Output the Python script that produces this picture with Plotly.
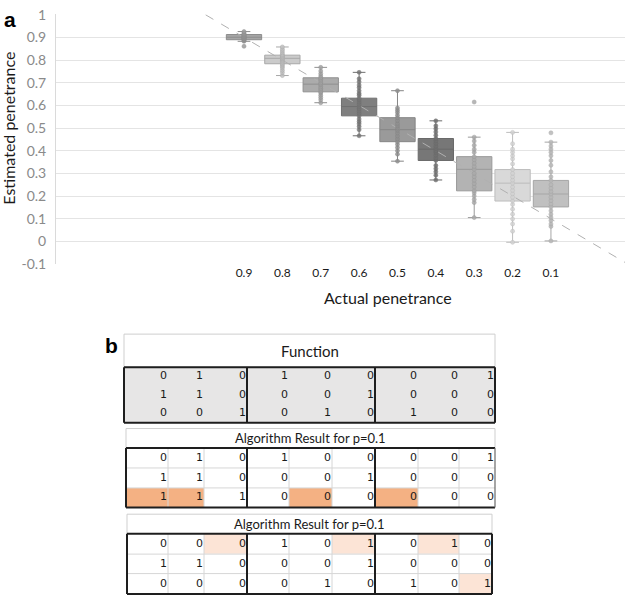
import plotly.graph_objects as go

# ---------------- Panel a: box-plot data ----------------
actual_labels = ["0.9", "0.8", "0.7", "0.6", "0.5", "0.4", "0.3", "0.2", "0.1"]
actual_values = [0.9, 0.8, 0.7, 0.6, 0.5, 0.4, 0.3, 0.2, 0.1]
q1_vals = [0.890, 0.784, 0.660, 0.554, 0.440, 0.357, 0.223, 0.178, 0.152]
median_vals = [0.901, 0.808, 0.694, 0.595, 0.493, 0.407, 0.318, 0.257, 0.209]
q3_vals = [0.913, 0.822, 0.722, 0.632, 0.546, 0.454, 0.374, 0.317, 0.269]
low_whisker = [0.883, 0.732, 0.612, 0.466, 0.354, 0.271, 0.105, -0.004, 0.002]
high_whisker = [0.926, 0.858, 0.768, 0.746, 0.665, 0.532, 0.460, 0.481, 0.438]

pts_09 = [0.861, 0.883, 0.886, 0.889, 0.891, 0.893, 0.895, 0.897, 0.899, 0.900,
          0.901, 0.903, 0.905, 0.907, 0.909, 0.911, 0.913, 0.916, 0.920, 0.926]
pts_08 = [0.732, 0.745, 0.755, 0.765, 0.772, 0.778, 0.784, 0.790, 0.795, 0.800,
          0.805, 0.808, 0.812, 0.815, 0.820, 0.825, 0.832, 0.840, 0.848, 0.858]
pts_07 = [0.612, 0.625, 0.635, 0.645, 0.655, 0.660, 0.668, 0.675, 0.682, 0.690,
          0.694, 0.700, 0.708, 0.715, 0.722, 0.730, 0.740, 0.752, 0.768]
pts_06 = [0.466, 0.493, 0.507, 0.519, 0.529, 0.540, 0.554, 0.565, 0.575, 0.585, 0.595,
          0.605, 0.615, 0.625, 0.632, 0.645, 0.653, 0.665, 0.679, 0.690, 0.704, 0.718, 0.746]
pts_05 = [0.354, 0.385, 0.400, 0.414, 0.428, 0.440, 0.452, 0.465, 0.478, 0.490,
          0.500, 0.510, 0.520, 0.533, 0.546, 0.557, 0.569, 0.579, 0.589, 0.665]
pts_04 = [0.271, 0.292, 0.307, 0.321, 0.335, 0.357, 0.368, 0.380, 0.392, 0.400,
          0.410, 0.420, 0.432, 0.444, 0.454, 0.468, 0.483, 0.497, 0.510, 0.532]
pts_03 = [0.105, 0.171, 0.185, 0.200, 0.214, 0.223, 0.240, 0.255, 0.270, 0.285, 0.300,
          0.318, 0.330, 0.345, 0.360, 0.374, 0.393, 0.407, 0.424, 0.443, 0.460, 0.615]
pts_02 = [-0.004, 0.045, 0.077, 0.099, 0.120, 0.142, 0.163, 0.178, 0.195, 0.210, 0.225, 0.240,
          0.257, 0.270, 0.285, 0.300, 0.317, 0.342, 0.364, 0.378, 0.393, 0.407, 0.431, 0.481]
pts_01 = [0.002, 0.066, 0.077, 0.092, 0.106, 0.120, 0.135, 0.152, 0.165, 0.180, 0.195, 0.209, 0.220,
          0.235, 0.250, 0.269, 0.285, 0.307, 0.336, 0.357, 0.378, 0.393, 0.407, 0.421, 0.438, 0.479]
all_points = [pts_09, pts_08, pts_07, pts_06, pts_05, pts_04, pts_03, pts_02, pts_01]

identity_line = [1.0, -0.1]          # y = actual penetrance reference line
y_tick_values = [-0.1, 0.0, 0.1, 0.2, 0.3, 0.4, 0.5, 0.6, 0.7, 0.8, 0.9, 1.0]
y_tick_labels = ["-0.1", "0", "0.1", "0.2", "0.3", "0.4", "0.5", "0.6", "0.7", "0.8", "0.9", "1"]

# ---------------- Panel b: table data ----------------
function_vals = [[0, 1, 0, 1, 0, 0, 0, 0, 1],
                 [1, 1, 0, 0, 0, 1, 0, 0, 0],
                 [0, 0, 1, 0, 1, 0, 1, 0, 0]]
result1_vals = [[0, 1, 0, 1, 0, 0, 0, 0, 1],
                [1, 1, 0, 0, 0, 1, 0, 0, 0],
                [1, 1, 1, 0, 0, 0, 0, 0, 0]]
result1_marked = [[0, 0, 0, 0, 0, 0, 0, 0, 0],
                  [0, 0, 0, 0, 0, 0, 0, 0, 0],
                  [1, 1, 0, 0, 1, 0, 1, 0, 0]]
result2_vals = [[0, 0, 0, 1, 0, 1, 0, 1, 0],
                [1, 1, 0, 0, 0, 1, 0, 0, 0],
                [0, 0, 0, 0, 1, 0, 1, 0, 1]]
result2_marked = [[0, 0, 1, 0, 0, 1, 0, 1, 0],
                  [0, 0, 0, 0, 0, 0, 0, 0, 0],
                  [0, 0, 0, 0, 0, 0, 0, 0, 1]]
all_marked = [[[1] * 9 for _ in range(3)], result1_marked, result2_marked]
table_titles = ["Function", "Algorithm Result for p=0.1", "Algorithm Result for p=0.1"]

# ---------------- styles / layout constants ----------------
W, H = 625, 603
box_fill = ["#a6a6a6", "#cbcbcb", "#ababab", "#7f7f7f", "#9a9a9a", "#777777", "#b3b3b3", "#d9d9d9", "#c0c0c0"]
whisk_col = ["#8c8c8c", "#a8a8a8", "#909090", "#6f6f6f", "#858585", "#6a6a6a", "#9a9a9a", "#bdbdbd", "#a6a6a6"]
pt_col = ["#9c9c9c", "#c2c2c2", "#a3a3a3", "#767676", "#909090", "#707070", "#aaaaaa", "#d2d2d2", "#b8b8b8"]
mark_code = [3, 1, 2]   # grey fill / strong orange / light orange

X_RANGE = [-4.9, 9.93]
Y_TOP = 1.003
plot_left_px, plot_top_px, plot_bot_px = 56, 6.3, 263   # pixel positions in the picture


def pos(p):
    return round((0.9 - p) * 10, 6)


fig = go.Figure()

fig.add_trace(go.Scatter(x=[pos(p) for p in identity_line], y=identity_line, mode="lines",
                         line=dict(color="#b0b0b0", width=1, dash="dash"),
                         hoverinfo="skip", showlegend=False, xaxis="x", yaxis="y"))

for i, p in enumerate(actual_values):
    xi = pos(p)
    fig.add_trace(go.Box(x=[xi], q1=[q1_vals[i]], median=[median_vals[i]], q3=[q3_vals[i]],
                         lowerfence=[low_whisker[i]], upperfence=[high_whisker[i]],
                         width=0.92, whiskerwidth=0.36, boxpoints=False,
                         fillcolor=box_fill[i], line=dict(color=whisk_col[i], width=1),
                         showlegend=False, hoverinfo="skip", xaxis="x", yaxis="y"))
    fig.add_trace(go.Scatter(x=[xi] * len(all_points[i]), y=all_points[i], mode="markers",
                             marker=dict(size=4, color=pt_col[i], opacity=0.85,
                                         line=dict(color=whisk_col[i], width=0.6)),
                             showlegend=False, hoverinfo="skip", xaxis="x", yaxis="y"))

# ---------------- tables (overlay axes x2/y2 in picture-pixel units) ----------------
col_edges = [126, 168, 204, 247, 289, 332, 375, 418, 459, 495]
table_geom = [
    dict(top=335, rows=[369, 388, 407, 426], left=124, right=495, tsize=15, inner=False, rthick=True),
    dict(top=432, rows=[452, 472.5, 493, 513], left=126, right=495, tsize=13, inner=True, rthick=False),
    dict(top=520, rows=[540, 561, 581, 602], left=127, right=492, tsize=13, inner=True, rthick=True),
]
table_vals = [function_vals, result1_vals, result2_vals]
cell_scale = [[0, "#ffffff"], [0.1667, "#ffffff"], [0.1667, "#f4b183"], [0.5, "#f4b183"],
              [0.5, "#fce4d6"], [0.8333, "#fce4d6"], [0.8333, "#e7e6e6"], [1, "#e7e6e6"]]

shapes = []
annotations = []
for t in range(3):
    g = table_geom[t]
    edges = [g["left"]] + col_edges[1:-1] + [g["right"]]
    rows = g["rows"]
    z = [[m * mark_code[t] for m in r] for r in all_marked[t]]
    fig.add_trace(go.Heatmap(x=edges, y=rows, z=z, zmin=0, zmax=3, colorscale=cell_scale,
                             showscale=False, hoverinfo="skip", xaxis="x2", yaxis="y2"))
    shapes.append(dict(type="rect", xref="x2", yref="y2", x0=g["left"], x1=g["right"], y0=g["top"], y1=rows[0],
                       line=dict(color="#cfcfcf", width=1), fillcolor="white", layer="below"))
    annotations.append(dict(xref="x2", yref="y2", x=(g["left"] + g["right"]) / 2, y=(g["top"] + rows[0]) / 2,
                            text=table_titles[t], showarrow=False,
                            font=dict(family="Lato", size=g["tsize"], color="#1a1a1a")))
    if g["inner"]:
        for k in [1, 2, 4, 5, 7, 8]:
            shapes.append(dict(type="line", xref="x2", yref="y2", x0=edges[k], x1=edges[k], y0=rows[0], y1=rows[-1],
                               line=dict(color="#d6d6d6", width=1)))
        for r in rows[1:-1]:
            shapes.append(dict(type="line", xref="x2", yref="y2", x0=edges[0], x1=edges[-1], y0=r, y1=r,
                               line=dict(color="#d6d6d6", width=1)))
    dark = dict(color="#1e1e1e", width=2)
    for (x0, y0, x1, y1) in [(edges[0], rows[0], edges[-1], rows[0]), (edges[0], rows[-1], edges[-1], rows[-1]),
                             (edges[0], rows[0], edges[0], rows[-1]), (edges[3], rows[0], edges[3], rows[-1]),
                             (edges[6], rows[0], edges[6], rows[-1])]:
        shapes.append(dict(type="line", xref="x2", yref="y2", x0=x0, x1=x1, y0=y0, y1=y1, line=dark))
    shapes.append(dict(type="line", xref="x2", yref="y2", x0=edges[-1], x1=edges[-1], y0=rows[0], y1=rows[-1],
                       line=dark if g["rthick"] else dict(color="#6a6a6a", width=1.2)))
    tx, ty, tt = [], [], []
    for r in range(3):
        for c in range(9):
            tx.append(edges[c + 1] - 1)
            ty.append((rows[r] + rows[r + 1]) / 2)
            tt.append(str(table_vals[t][r][c]))
    fig.add_trace(go.Scatter(x=tx, y=ty, text=tt, mode="text", textposition="middle left",
                             textfont=dict(family="DejaVu Sans", size=11, color="#1a1a1a"),
                             hoverinfo="skip", showlegend=False, cliponaxis=False, xaxis="x2", yaxis="y2"))

annotations += [
    dict(xref="x2", yref="y2", x=10, y=12, text="<b>a</b>", showarrow=False,
         font=dict(family="Liberation Sans", size=21, color="black")),
    dict(xref="x2", yref="y2", x=111, y=347, text="<b>b</b>", showarrow=False,
         font=dict(family="Liberation Sans", size=21, color="black")),
    dict(xref="x2", yref="y2", x=9, y=124, text="Estimated penetrance", textangle=-90, showarrow=False,
         font=dict(family="Lato", size=16, color="#1a1a1a")),
    dict(xref="x2", yref="y2", x=388, y=297, text="Actual penetrance", showarrow=False,
         font=dict(family="Lato", size=16, color="#1a1a1a")),
]

fig.update_layout(
    width=W, height=H, margin=dict(l=0, r=0, t=0, b=0),
    paper_bgcolor="white", plot_bgcolor="rgba(0,0,0,0)", showlegend=False,
    xaxis=dict(domain=[plot_left_px / W, 1.0], range=X_RANGE, tickvals=[pos(p) for p in actual_values],
               ticktext=actual_labels, showgrid=False, zeroline=False, showline=False, ticks="",
               tickfont=dict(family="Lato", size=12, color="#1a1a1a"), anchor="y"),
    yaxis=dict(domain=[1 - plot_bot_px / H, 1 - plot_top_px / H], range=[-0.1, Y_TOP],
               tickvals=y_tick_values, ticktext=y_tick_labels, showgrid=True, gridcolor="#e4e4e4",
               gridwidth=1, zeroline=False, showline=True, linecolor="#dadada", ticks="",
               ticklabelstandoff=6, ticklabeloverflow="allow",
               tickfont=dict(family="Lato", size=14, color="#8a8a8a"), anchor="x"),
    xaxis2=dict(domain=[0, 1], range=[0, W], visible=False, anchor="y2", fixedrange=True),
    yaxis2=dict(domain=[0, 1], range=[H, 0], visible=False, anchor="x2", fixedrange=True),
    shapes=shapes, annotations=annotations,
)

# remove the browser's default page margin so the figure sits at the window's corner
fig.write_html("out.html", config={"displayModeBar": False},
               post_script="document.body.style.margin='0px';")
